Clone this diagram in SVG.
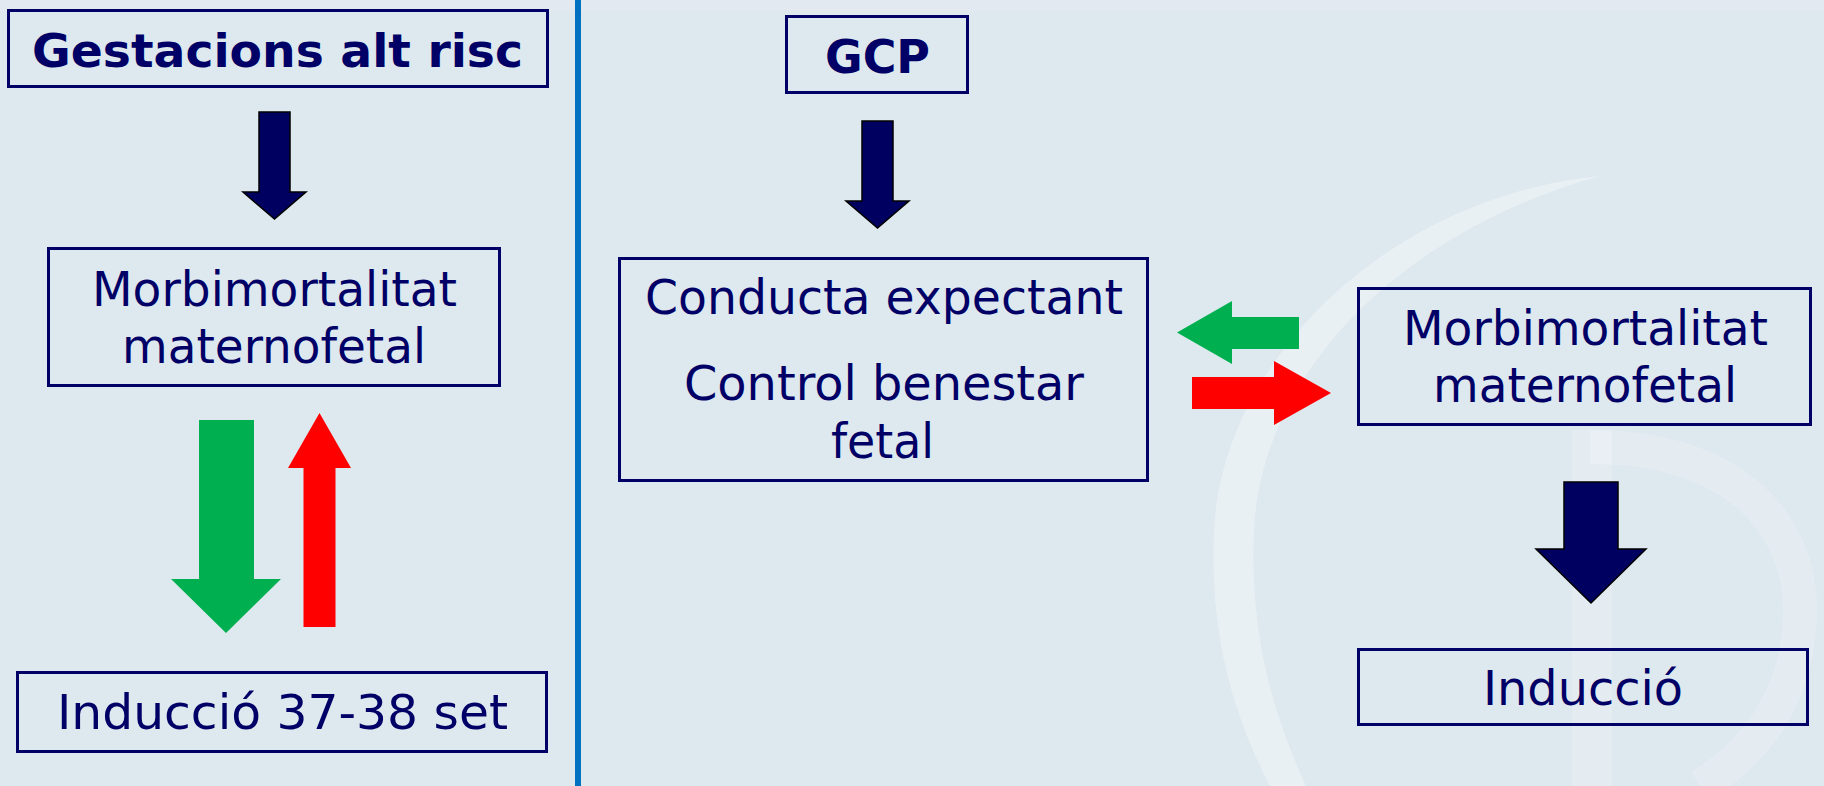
<svg xmlns="http://www.w3.org/2000/svg" width="1824" height="786" viewBox="0 0 1824 786">
  <style>
    .box { fill: none; stroke: #000066; stroke-width: 3; }
    .t { font-family: "DejaVu Sans", Verdana, sans-serif; font-size: 48px; fill: #000066; text-anchor: middle; }
    .tb { font-family: "DejaVu Sans", Verdana, sans-serif; font-size: 46px; font-weight: bold; fill: #000066; text-anchor: middle; }
    .navy { fill: #000060; stroke: #000000; stroke-width: 1.5; stroke-linejoin: miter; }
    .green { fill: #00B050; }
    .red { fill: #FF0000; }
    .wm { fill: #ffffff; opacity: 0.35; }
    .wmd { fill: #ffffff; opacity: 0.2; }
    .wms { fill: none; stroke: #ffffff; opacity: 0.2; }
  </style>
  <rect x="0" y="0" width="1824" height="786" fill="#dee8ef"/>
  <rect x="0" y="0" width="1824" height="11" fill="#e2e9f1"/>

  <g id="watermark">
    <path class="wm" d="M 1600,176 C 1390,196 1222,360 1214,530 C 1209,640 1236,720 1270,786 L 1306,786 C 1268,704 1250,624 1254,530 C 1262,372 1400,232 1600,176 Z"/>
    <rect class="wmd" x="1572" y="430" width="40" height="356"/>
    <path class="wms" stroke-width="34" d="M 1590,447 C 1730,447 1800,520 1800,610 C 1800,690 1760,750 1700,786"/>
  </g>

  <rect id="divider" x="575" y="0" width="6" height="786" fill="#0070C0"/>

  <g id="connectors">
    <polygon class="navy" points="259,112 290,112 290,192 306,192 274.5,219 243,192 259,192"/>
    <polygon class="green" points="199,420 254,420 254,579 281,579 226,633 171,579 199,579"/>
    <polygon class="red" points="303.5,627 335.5,627 335.5,468 351,468 319.5,413 288,468 303.5,468"/>
    <polygon class="navy" points="862,121 893,121 893,201 909,201 877.5,228 846,201 862,201"/>
    <polygon class="green" points="1299,317 1232,317 1232,301 1177,332.5 1232,364 1232,349 1299,349"/>
    <polygon class="red" points="1192,377 1274,377 1274,361 1331,393 1274,425 1274,409 1192,409"/>
    <polygon class="navy" points="1564,482 1618,482 1618,549 1646,549 1591,603 1536,549 1564,549"/>
  </g>

  <g id="gestacions">
    <rect class="box" x="8.5" y="10.5" width="539" height="76"/>
    <text class="tb" x="277.5" y="67" textLength="491" lengthAdjust="spacingAndGlyphs">Gestacions alt risc</text>
  </g>
  <g id="morbi-left">
    <rect class="box" x="48.5" y="248.5" width="451" height="137"/>
    <text class="t" x="274.5" y="306" textLength="365" lengthAdjust="spacingAndGlyphs">Morbimortalitat</text>
    <text class="t" x="274" y="363" textLength="304" lengthAdjust="spacingAndGlyphs">maternofetal</text>
  </g>
  <g id="induccio-37">
    <rect class="box" x="17.5" y="672.5" width="529" height="79"/>
    <text class="t" x="282.5" y="729" textLength="451" lengthAdjust="spacingAndGlyphs">Inducció 37-38 set</text>
  </g>
  <g id="gcp">
    <rect class="box" x="786.5" y="16.5" width="181" height="76"/>
    <text class="tb" x="877.5" y="73" textLength="105" lengthAdjust="spacingAndGlyphs">GCP</text>
  </g>
  <g id="conducta">
    <rect class="box" x="619.5" y="258.5" width="528" height="222"/>
    <text class="t" x="884" y="314" textLength="478" lengthAdjust="spacingAndGlyphs">Conducta expectant</text>
    <text class="t" x="884" y="400" textLength="400" lengthAdjust="spacingAndGlyphs">Control benestar</text>
    <text class="t" x="882.5" y="458" textLength="103" lengthAdjust="spacingAndGlyphs">fetal</text>
  </g>
  <g id="morbi-right">
    <rect class="box" x="1358.5" y="288.5" width="452" height="136"/>
    <text class="t" x="1585.5" y="345" textLength="365" lengthAdjust="spacingAndGlyphs">Morbimortalitat</text>
    <text class="t" x="1585" y="402" textLength="304" lengthAdjust="spacingAndGlyphs">maternofetal</text>
  </g>
  <g id="induccio">
    <rect class="box" x="1358.5" y="649.5" width="449" height="75"/>
    <text class="t" x="1583" y="705" textLength="200" lengthAdjust="spacingAndGlyphs">Inducció</text>
  </g>
</svg>
